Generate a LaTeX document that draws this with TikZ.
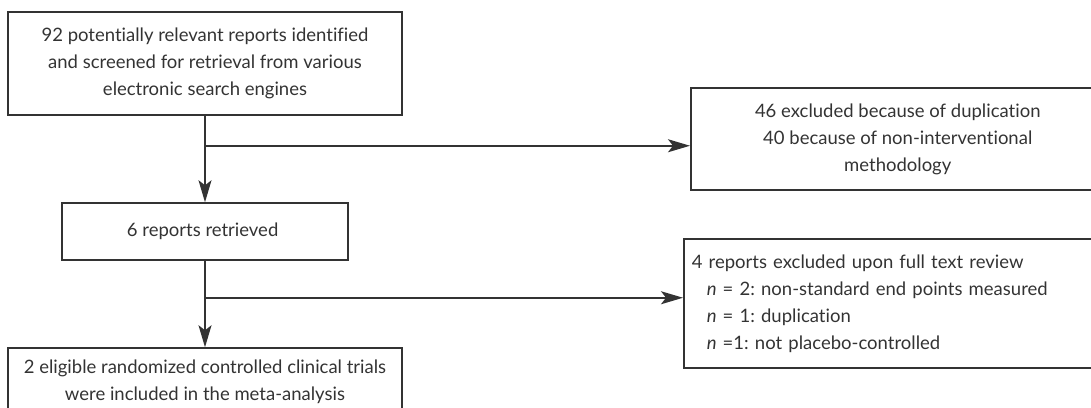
\documentclass[tikz,border=0pt]{standalone}
\usepackage{fontspec}
\setmainfont{Lato}[Ligatures=NoCommon]
\usepackage{xcolor}
\usetikzlibrary{arrows.meta, calc}
\definecolor{InkGray}{HTML}{333333}
\frenchspacing

\begin{document}
\begin{tikzpicture}[x=1pt, y=-1pt,
  flowbox/.style={draw=InkGray, line width=1.5pt, text=InkGray, inner sep=0pt,
                  align=center, font=\fontsize{18.5}{27}\selectfont},
  flowarrow/.style={draw=InkGray, line width=1.5pt,
                    -{Stealth[length=22pt, width=13pt, inset=5pt]}}]
\clip (0,0) rectangle (1091,407);

% main column
\node[flowbox, minimum width=394pt, minimum height=103pt] (search) at (205,63.5) {
    92 potentially relevant reports identified\\
    and screened for retrieval from various\\
    electronic search engines
};
\node[flowbox, minimum width=286pt, minimum height=57pt] (retr) at (205,231.5) {
    6 reports retrieved
};
\node[flowbox, minimum width=394pt, minimum height=68pt] (incl) at (205,382) {
    2 eligible randomized controlled clinical trials\\
    were included in the meta-analysis
};

% exclusions
\node[flowbox, anchor=west, minimum width=414pt, minimum height=102pt] (excl1) at (690,139) {
    46 excluded because of duplication\\
    40 because of non-interventional\\
    methodology
};
\node[flowbox, anchor=west, align=left, text width=444pt, inner xsep=8pt,
      minimum height=129pt] (excl2) at (683,303.5) {
    4 reports excluded upon full text review\\
    \hspace*{15pt}\textit{n} = 2: non-standard end points measured\\
    \hspace*{15pt}\textit{n} = 1: duplication\\
    \hspace*{15pt}\textit{n} =1: not placebo-controlled
};

% connectors
\coordinate (split1) at ($(search.south)+(0,30)$);
\coordinate (split2) at ($(retr.south)+(0,37)$);
\draw[flowarrow] (search) -- (retr);
\draw[flowarrow] (split1) -- (split1 -| excl1.west);
\draw[flowarrow] (retr) -- (incl);
\draw[flowarrow] (split2) -- (split2 -| excl2.west);
\end{tikzpicture}
\end{document}
